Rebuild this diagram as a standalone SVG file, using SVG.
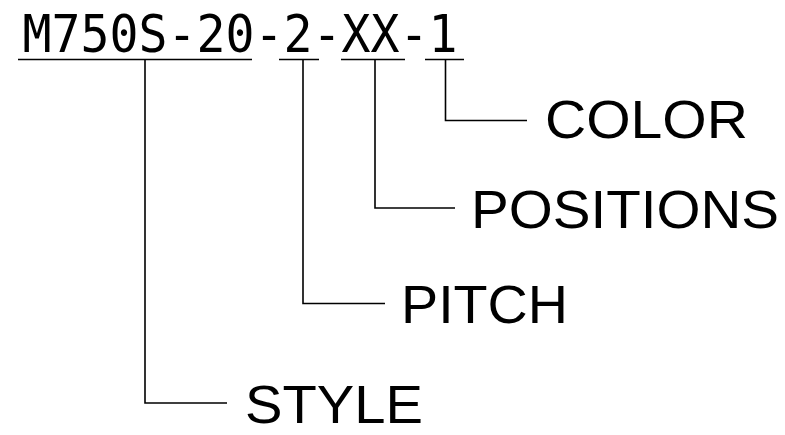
<svg xmlns="http://www.w3.org/2000/svg" width="785" height="435" viewBox="0 0 785 435">
<style>
.code{font-family:"DejaVu Sans Mono","Liberation Mono",monospace;font-size:51px;fill:#000}
.lbl{font-family:"Liberation Sans",Arial,sans-serif;font-size:54px;fill:#000}
.ln{fill:none;stroke:#000;stroke-width:1.6}
</style>
<rect width="785" height="435" fill="#fff"/>
<g id="code">
<text class="code" x="22.5" y="52" textLength="435" lengthAdjust="spacingAndGlyphs">M750S-20-2-XX-1</text>
<path class="ln" d="M18 59.5H252M279 59.5H319M341 59.5H405M425 59.5H464"/>
</g>
<g id="connectors">
<path class="ln" d="M145 59.5V403H227"/>
<path class="ln" d="M303 59.5V303.5H385"/>
<path class="ln" d="M375 59.5V208H455"/>
<path class="ln" d="M445.5 59.5V120.5H527"/>
</g>
<g id="style"><text class="lbl" x="245" y="423" textLength="178" lengthAdjust="spacingAndGlyphs">STYLE</text></g>
<g id="pitch"><text class="lbl" x="401" y="323" textLength="167" lengthAdjust="spacingAndGlyphs">PITCH</text></g>
<g id="positions"><text class="lbl" x="471" y="228" textLength="308" lengthAdjust="spacingAndGlyphs">POSITIONS</text></g>
<g id="color"><text class="lbl" x="545" y="138" textLength="203" lengthAdjust="spacingAndGlyphs">COLOR</text></g>
</svg>
